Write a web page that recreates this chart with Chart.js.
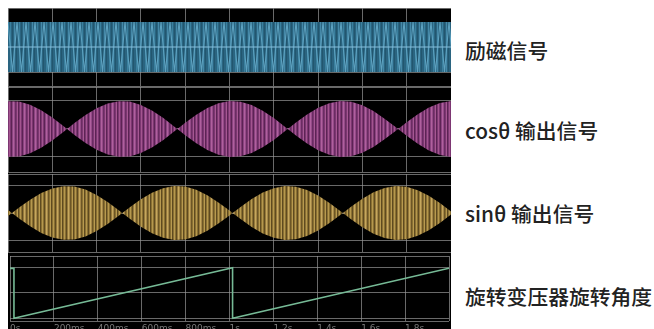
<!DOCTYPE html>
<html>
<head>
<meta charset="utf-8">
<script src="https://cdn.jsdelivr.net/npm/chart.js@4.4.0/dist/chart.umd.min.js"></script>
<style>
  html, body { margin: 0; padding: 0; background: #fff; overflow: hidden; }
  body { width: 654px; height: 329px; position: relative; }
  #scope { position: absolute; left: 8px; top: 8px; width: 443px; height: 321px; background: #000; }
  .panel { position: absolute; left: 8px; width: 443px; }
  .label {
    position: absolute; left: 465px; white-space: nowrap;
    font-family: "Noto Sans CJK SC", "Noto Sans", sans-serif;
    font-size: 20.8px; line-height: 20px; font-weight: 500; color: #222;
  }
</style>
</head>
<body>
<div id="scope"></div>
<div class="panel" style="top:8px;height:79px"><canvas id="excite"></canvas></div>
<div class="panel" style="top:87px;height:86px"><canvas id="cosOut"></canvas></div>
<div class="panel" style="top:174px;height:79px"><canvas id="sinOut"></canvas></div>
<div class="panel" style="top:256px;height:80px"><canvas id="angle"></canvas></div>

<div class="label" style="top:40px">励磁信号</div>
<div class="label" style="top:120px">cosθ 输出信号</div>
<div class="label" style="top:203px">sinθ 输出信号</div>
<div class="label" style="top:286px">旋转变压器旋转角度</div>

<script>
// time axis (ms), one grid division = 200 ms
const tickTimes = [0, 200, 400, 600, 800, 1000, 1200, 1400, 1600, 1800, 2000];
const tickLabels = ['0s', '200ms', '400ms', '600ms', '800ms', '1s', '1.2s', '1.4s', '1.6s', '1.8s', ''];

// excitation signal: constant amplitude carrier
const exciteTime = [0, 2000];
const exciteAmp = [1, 1];

// cos output envelope
const cosTime = [0, 50, 100, 150, 200, 250, 267, 300, 350, 400, 450, 500, 550, 600, 650, 700, 750, 765,
  800, 850, 900, 950, 1000, 1050, 1100, 1150, 1200, 1250, 1263, 1300, 1350, 1400, 1450, 1500,
  1550, 1600, 1650, 1700, 1750, 1761, 1800, 1850, 1900, 1950, 2000];
const cosEnv = [0.99, 0.98, 0.87, 0.67, 0.41, 0.11, 0, 0.21, 0.50, 0.74, 0.91, 0.99, 0.98, 0.86, 0.66, 0.40, 0.09, 0,
  0.22, 0.51, 0.75, 0.92, 1.00, 0.97, 0.86, 0.65, 0.39, 0.08, 0, 0.23, 0.52, 0.76, 0.92, 1.00,
  0.97, 0.85, 0.64, 0.37, 0.07, 0, 0.24, 0.53, 0.77, 0.93, 1.00];

// sin output envelope
const sinTime = [0, 18, 50, 100, 150, 200, 250, 300, 350, 400, 450, 500, 516, 550, 600, 650, 700, 750,
  800, 850, 900, 950, 1000, 1014, 1050, 1100, 1150, 1200, 1250, 1300, 1350, 1400, 1450, 1500, 1512,
  1550, 1600, 1650, 1700, 1750, 1800, 1850, 1900, 1950, 2000];
const sinEnv = [0.11, 0, 0.20, 0.49, 0.74, 0.91, 0.99, 0.98, 0.87, 0.67, 0.41, 0.10, 0, 0.21, 0.51, 0.75, 0.92, 1.00,
  0.98, 0.86, 0.66, 0.39, 0.09, 0, 0.22, 0.52, 0.76, 0.92, 1.00, 0.97, 0.85, 0.65, 0.38, 0.07, 0,
  0.24, 0.53, 0.77, 0.93, 1.00, 0.97, 0.84, 0.64, 0.37, 0.06];

// resolver rotation angle (deg)
const angleTime = [0, 18, 18, 1014, 1014, 2000];
const angleDeg = [355, 355, 0, 360, 0, 356];

const gridGrey = 'rgba(150,150,150,0.7)';

function stripes(colors, w, h, draw) {
  const c = document.createElement('canvas');
  c.width = w; c.height = h;
  const g = c.getContext('2d');
  colors.forEach((col, i) => { g.fillStyle = col; g.fillRect(i, 0, 1, h); });
  if (draw) draw(g);
  return g.createPattern(c, 'repeat');
}

const bluePattern = stripes(['#2a6480', '#2a6480', '#3a809e', '#2a6480', '#22566e', '#2a6480', '#4589a8', '#2a6480', '#22566e'], 9, 79, g => {
  g.strokeStyle = '#5da2c0';
  g.lineWidth = 1.1;
  g.beginPath();
  g.moveTo(0, 14); g.lineTo(4.5, 64); g.lineTo(9, 14);
  g.stroke();
});
const magentaPattern = stripes(['#7c3672', '#a3558f', '#7c3672', '#5c2354', '#8a4380', '#b0609e', '#944a88', '#6a2c62', '#7c3672', '#a55892', '#5c2354'], 11, 1);
const goldPattern = stripes(['#8a7032', '#b6984e', '#8a7032', '#5e4a20', '#96793a', '#c6a85e', '#a48646', '#6c5626', '#8a7032', '#b89a50', '#5e4a20'], 11, 1);

function toPoints(xs, ys, sign) {
  return xs.map((x, i) => ({ x: x, y: sign * ys[i] }));
}

function xAxis(showLabels) {
  return {
    type: 'linear', min: 0, max: 2000, z: 1,
    afterBuildTicks: axis => { axis.ticks = tickTimes.map(v => ({ value: v })); },
    grid: { color: gridGrey, drawTicks: false },
    border: { display: false },
    ticks: {
      display: showLabels, align: 'start', autoSkip: false, maxRotation: 0, padding: 2,
      color: '#7a7a7a', font: { size: 9, family: 'DejaVu Sans' },
      callback: v => tickLabels[tickTimes.indexOf(v)]
    }
  };
}

function yAxis(min, max, lines) {
  return {
    min: min, max: max,
    afterBuildTicks: axis => { axis.ticks = [min].concat(lines, [max]).map(v => ({ value: v })); },
    grid: { color: gridGrey, drawTicks: false },
    border: { display: false },
    ticks: { display: false }
  };
}

function baseOptions(scales, padBottom) {
  return {
    responsive: true,
    maintainAspectRatio: false,
    animation: false,
    layout: { padding: { top: 0, bottom: padBottom, left: 0, right: 0 } },
    plugins: { legend: { display: false }, tooltip: { enabled: false } },
    elements: { point: { radius: 0 }, line: { tension: 0 } },
    scales: scales
  };
}

function bandChart(id, xs, env, pattern, min, max, extra) {
  const datasets = [
    { data: toPoints(xs, env, 1), borderWidth: 0, borderColor: 'transparent', backgroundColor: pattern, fill: '+1' },
    { data: toPoints(xs, env, -1), borderWidth: 0, borderColor: 'transparent', backgroundColor: pattern, fill: false }
  ];
  if (extra) datasets.unshift(extra);
  return new Chart(document.getElementById(id), {
    type: 'line',
    data: { datasets: datasets },
    options: baseOptions({ x: xAxis(false), y: yAxis(min, max, [-1, 0, 1]) }, 1)
  });
}

// excitation with its light zero line
bandChart('excite', exciteTime, exciteAmp, bluePattern, -1.56, 1.56, {
  data: toPoints(exciteTime, [0, 0], 1), borderColor: '#86bedb', borderWidth: 1, fill: false
});
bandChart('cosOut', cosTime, cosEnv, magentaPattern, -1.536, 1.5);
bandChart('sinOut', sinTime, sinEnv, goldPattern, -1.444, 1.444);

new Chart(document.getElementById('angle'), {
  type: 'line',
  data: {
    datasets: [{
      data: toPoints(angleTime, angleDeg, 1),
      borderColor: '#76ba96', borderWidth: 1.6, fill: false
    }]
  },
  options: baseOptions({ x: xAxis(true), y: yAxis(-21, 443, [0, 180, 360]) }, 0)
});
</script>
</body>
</html>
